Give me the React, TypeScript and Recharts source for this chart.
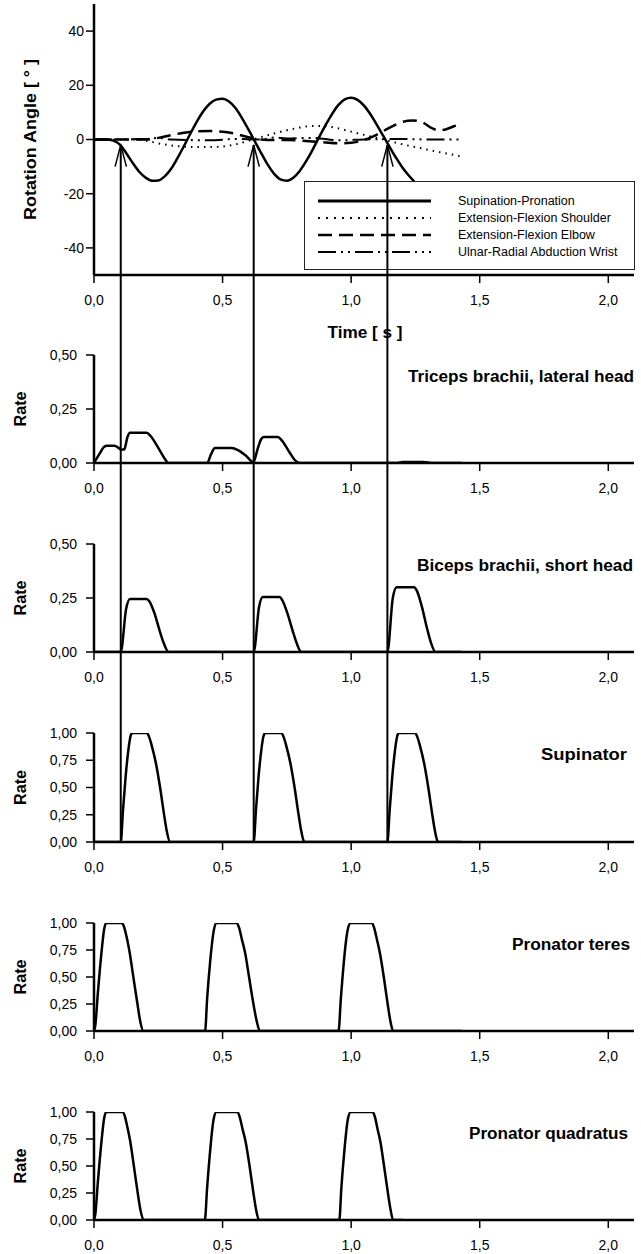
import React from 'react'
import { LineChart, Line, XAxis, YAxis, ReferenceLine } from 'recharts'

const FONT = '"Liberation Sans", Arial, Helvetica, sans-serif'

// axis ticks
const timeTicks = [0, 0.5, 1, 1.5, 2]
const angleTicks = [-40, -20, 0, 20, 40]
const rateTicksHalf = [0, 0.25, 0.5]
const rateTicksFull = [0, 0.25, 0.5, 0.75, 1]

// onset of each supination (vertical arrows), s
const onsetTimes = [0.104, 0.621, 1.141]

const seriesNames = [
    'Supination-Pronation',
    'Extension-Flexion Shoulder',
    'Extension-Flexion Elbow',
    'Ulnar-Radial Abduction Wrist',
]

// joint angles: [time s, angle °]
const supinationPronation = [
    [0, 0], [0.05, 0], [0.075, -0.4], [0.1, -1.8], [0.125, -5], [0.15, -8.6], [0.175, -11.8],
    [0.2, -14], [0.225, -15.2], [0.25, -15.1], [0.275, -13.6], [0.3, -10.8], [0.325, -6.8],
    [0.35, -2.4], [0.375, 2.2], [0.4, 6.6], [0.425, 10.4], [0.45, 13.2], [0.475, 14.7], [0.5, 15],
    [0.525, 14], [0.55, 11.6], [0.575, 8], [0.6, 3.8], [0.625, -0.6], [0.65, -5], [0.675, -9.2],
    [0.7, -12.6], [0.725, -14.7], [0.75, -15.2], [0.775, -14.1], [0.8, -11.6], [0.825, -8],
    [0.85, -3.8], [0.875, 0.8], [0.9, 5.2], [0.925, 9.3], [0.95, 12.7], [0.975, 14.8], [1.0, 15.4],
    [1.025, 14.6], [1.05, 12.5], [1.075, 9.3], [1.1, 5.4], [1.125, 1.3], [1.15, -2.8],
    [1.175, -6.8], [1.2, -10.4], [1.225, -13.4], [1.245, -15.5],
]
const extFlexShoulder = [
    [0, 0], [0.15, 0], [0.2, -0.4], [0.25, -1.4], [0.3, -2.2], [0.35, -2.6], [0.4, -2.8],
    [0.45, -2.8], [0.5, -2.6], [0.55, -1.8], [0.6, -0.5], [0.65, 0.9], [0.7, 2.2], [0.75, 3.4],
    [0.8, 4.4], [0.85, 5], [0.9, 4.9], [0.95, 4.1], [1.0, 2.9], [1.05, 1.7], [1.1, 0.6],
    [1.15, -0.6], [1.2, -1.8], [1.25, -2.8], [1.3, -3.8], [1.35, -4.8], [1.4, -5.7], [1.43, -6.3],
]
const extFlexElbow = [
    [0, 0], [0.2, 0], [0.25, 0.6], [0.3, 1.6], [0.35, 2.5], [0.4, 3], [0.45, 3.1], [0.5, 2.9],
    [0.55, 2.1], [0.6, 0.8], [0.65, 0], [0.7, -0.2], [0.75, -0.2], [0.8, -0.4], [0.85, -0.7],
    [0.9, -1.1], [0.95, -1.4], [1.0, -1.2], [1.05, -0.2], [1.1, 1.8], [1.15, 4.4], [1.2, 6.5],
    [1.24, 7], [1.28, 6.2], [1.31, 4.4], [1.34, 3.4], [1.37, 3.8], [1.4, 4.9], [1.43, 5.8],
]
const ulnarRadialWrist = [
    [0, 0], [0.2, 0.2], [0.25, 0.6], [0.3, 0], [0.45, -0.3], [0.55, 0.2], [0.65, 0], [0.7, 0.7],
    [0.75, 0.4], [0.85, 0.6], [0.95, -0.3], [1.05, 0], [1.2, 0.2], [1.3, 0], [1.43, 0],
]

// muscle activation rates: [time s, rate]
const tricepsLateral = [
    [0, 0], [0.02, 0.04], [0.04, 0.075], [0.05, 0.08], [0.08, 0.08], [0.095, 0.07], [0.105, 0.062],
    [0.118, 0.063], [0.13, 0.12], [0.14, 0.14], [0.205, 0.14], [0.22, 0.125], [0.25, 0.07],
    [0.275, 0.02], [0.29, 0], [0.44, 0], [0.455, 0.04], [0.47, 0.07], [0.535, 0.07], [0.56, 0.06],
    [0.59, 0.035], [0.62, 0.004], [0.635, 0.06], [0.65, 0.11], [0.66, 0.12], [0.715, 0.12],
    [0.73, 0.105], [0.76, 0.05], [0.78, 0.015], [0.8, 0], [1.18, 0], [1.2, 0.005], [1.28, 0.005],
    [1.32, 0], [1.43, 0],
]
const bicepsShort = [
    [0, 0], [0.104, 0], [0.125, 0.2], [0.14, 0.245], [0.205, 0.245], [0.215, 0.235], [0.235, 0.18],
    [0.255, 0.1], [0.27, 0.045], [0.29, 0], [0.621, 0], [0.642, 0.21], [0.656, 0.255],
    [0.722, 0.255], [0.732, 0.24], [0.752, 0.18], [0.772, 0.1], [0.787, 0.045], [0.806, 0],
    [1.141, 0], [1.162, 0.25], [1.177, 0.3], [1.245, 0.3], [1.255, 0.285], [1.275, 0.21],
    [1.295, 0.11], [1.31, 0.045], [1.328, 0], [1.43, 0],
]
const supinator = [
    [0, 0], [0.104, 0], [0.113, 0.3], [0.123, 0.6], [0.134, 0.85], [0.142, 0.97], [0.148, 1],
    [0.205, 1], [0.215, 0.96], [0.225, 0.88], [0.241, 0.72], [0.257, 0.5], [0.272, 0.26],
    [0.283, 0.1], [0.296, 0], [0.621, 0], [0.63, 0.3], [0.64, 0.6], [0.651, 0.85], [0.659, 0.97],
    [0.666, 1], [0.728, 1], [0.738, 0.96], [0.748, 0.88], [0.764, 0.72], [0.78, 0.5],
    [0.795, 0.26], [0.806, 0.1], [0.818, 0], [1.141, 0], [1.15, 0.3], [1.16, 0.6], [1.171, 0.85],
    [1.179, 0.97], [1.185, 1], [1.248, 1], [1.258, 0.96], [1.268, 0.88], [1.284, 0.72],
    [1.3, 0.5], [1.315, 0.26], [1.326, 0.1], [1.338, 0], [1.43, 0],
]
const pronatorTeres = [
    [0, 0], [0.005, 0.05], [0.015, 0.35], [0.028, 0.7], [0.04, 0.95], [0.048, 1], [0.108, 1],
    [0.116, 0.97], [0.124, 0.9], [0.137, 0.75], [0.153, 0.5], [0.169, 0.25], [0.179, 0.1],
    [0.192, 0], [0.432, 0], [0.44, 0.3], [0.452, 0.65], [0.465, 0.92], [0.477, 1], [0.555, 1],
    [0.565, 0.95], [0.575, 0.85], [0.588, 0.72], [0.603, 0.5], [0.62, 0.25], [0.632, 0.1],
    [0.645, 0], [0.951, 0], [0.96, 0.3], [0.972, 0.65], [0.986, 0.93], [0.998, 1], [1.081, 1],
    [1.09, 0.95], [1.1, 0.85], [1.112, 0.72], [1.127, 0.5], [1.142, 0.25], [1.152, 0.1],
    [1.163, 0], [1.43, 0],
]
const pronatorQuadratus = [
    [0, 0], [0.005, 0.05], [0.015, 0.35], [0.028, 0.7], [0.04, 0.95], [0.048, 1], [0.112, 1],
    [0.12, 0.96], [0.128, 0.88], [0.14, 0.74], [0.155, 0.5], [0.17, 0.25], [0.18, 0.1],
    [0.195, 0], [0.431, 0], [0.44, 0.3], [0.452, 0.65], [0.465, 0.93], [0.476, 1], [0.558, 1],
    [0.567, 0.95], [0.577, 0.85], [0.59, 0.72], [0.605, 0.5], [0.62, 0.25], [0.63, 0.1],
    [0.642, 0], [0.954, 0], [0.962, 0.3], [0.974, 0.65], [0.987, 0.93], [0.998, 1], [1.084, 1],
    [1.093, 0.95], [1.102, 0.85], [1.114, 0.72], [1.128, 0.5], [1.143, 0.25], [1.153, 0.1],
    [1.163, 0], [1.2, 0],
]

const muscleTitles = [
    'Triceps brachii, lateral head',
    'Biceps brachii, short head',
    'Supinator',
    'Pronator teres',
    'Pronator quadratus',
]

const toPoints = (arr: number[][]) => arr.map(([t, v]) => ({ t, v }))
const fmtTime = (v: number) => v.toFixed(1).replace('.', ',')
const fmtRate = (v: number) => v.toFixed(2).replace('.', ',')

const angleSeries = [supinationPronation, extFlexShoulder, extFlexElbow, ulnarRadialWrist]
const lineStyles = [
    { dash: undefined, width: 2.5 },
    { dash: '1.5 5', width: 2 },
    { dash: '14 7', width: 2.5 },
    { dash: '18 5 2 5 2 5', width: 2 },
]

const axisCommon = {
    axisLine: { stroke: '#000', strokeWidth: 2.5 },
    tickLine: { stroke: '#000', strokeWidth: 1.5 },
    tick: { fill: '#000', fontSize: 14, fontFamily: FONT },
    tickSize: 8,
    interval: 0 as const,
    allowDataOverflow: true,
}

const boldText = { fontFamily: FONT, fontWeight: 'bold' as const, fontSize: 16 }

const vertLabel = (text: string, cx: number, len: number) => (props: any) => {
    const vb = props.viewBox || {}
    const cy = vb.y + vb.height / 2
    return (
        <text x={cx} y={cy} transform={`rotate(-90 ${cx} ${cy})`} textAnchor="middle"
            dominantBaseline="central" fill="#000" textLength={len} lengthAdjust="spacingAndGlyphs"
            style={boldText}>
            {text}
        </text>
    )
}

const timeLabel = (props: any) => {
    const vb = props.viewBox || {}
    return (
        <text x={vb.x + vb.width / 2 + 1} y={vb.y + 57} textAnchor="middle" dominantBaseline="central"
            fill="#000" textLength={75} lengthAdjust="spacingAndGlyphs" style={boldText}>
            Time [ s ]
        </text>
    )
}

// pixel layout of the stacked panels
const W = 641
const ML = 34
const MR = 7

function AngleChart() {
    const H = 345, MT = 4, AH = 70
    const plotH = H - MT - AH
    const lower = -50 - (AH / plotH) * 100 - 1
    return (
        <div style={{ position: 'absolute', left: 0, top: 0 }}>
            <LineChart width={W} height={H} margin={{ top: MT, right: MR, bottom: 0, left: ML }}>
                <XAxis type="number" dataKey="t" domain={[0, 2.1]} ticks={timeTicks} height={AH}
                    tickFormatter={fmtTime} tickMargin={12} label={timeLabel} {...axisCommon} />
                <YAxis type="number" domain={[-50, 50]} ticks={angleTicks} width={60}
                    tickMargin={2} label={vertLabel('Rotation Angle [ ° ]', 30, 161)} {...axisCommon} />
                {angleSeries.map((s, i) => (
                    <Line key={seriesNames[i]} data={toPoints(s)} dataKey="v" type="monotone"
                        stroke="#000" strokeWidth={lineStyles[i].width}
                        strokeDasharray={lineStyles[i].dash} dot={false} activeDot={false}
                        isAnimationActive={false} />
                ))}
                {onsetTimes.map(t => (
                    <React.Fragment key={t}>
                        <ReferenceLine segment={[{ x: t, y: -2 }, { x: t, y: lower }]}
                            ifOverflow="visible" stroke="#000" strokeWidth={2} />
                        <ReferenceLine segment={[{ x: t, y: -2 }, { x: t - 0.022, y: -10 }]}
                            ifOverflow="visible" stroke="#000" strokeWidth={1.5} />
                        <ReferenceLine segment={[{ x: t, y: -2 }, { x: t + 0.022, y: -10 }]}
                            ifOverflow="visible" stroke="#000" strokeWidth={1.5} />
                    </React.Fragment>
                ))}
            </LineChart>
        </div>
    )
}

interface PanelProps {
    data: number[][]
    title: string
    titleLeft: number
    titleRight: number
    yMax: number
    ticks: number[]
    top: number
    height: number
    mt: number
    ah: number
    arrows: 'through' | 'end' | 'none'
}

function RatePanel({ data, title, titleLeft, titleRight, yMax, ticks, top, height, mt, ah, arrows }: PanelProps) {
    const plotH = height - mt - ah
    const upper = yMax * (1 + mt / plotH) + 0.01
    const lower = arrows === 'through' ? -yMax * (ah / plotH) - 0.01 : 0
    return (
        <div style={{ position: 'absolute', left: 0, top }}>
            <LineChart width={W} height={height} margin={{ top: mt, right: MR, bottom: 0, left: ML }}>
                <XAxis type="number" dataKey="t" domain={[0, 2.1]} ticks={timeTicks} height={ah}
                    tickFormatter={fmtTime} tickMargin={12} {...axisCommon} />
                <YAxis type="number" domain={[0, yMax]} ticks={ticks} width={60}
                    tickFormatter={fmtRate} tickMargin={9} label={vertLabel('Rate', 20, 35)} {...axisCommon} />
                <Line data={toPoints(data)} dataKey="v" type="monotone" stroke="#000" strokeWidth={2.5}
                    dot={false} activeDot={false} isAnimationActive={false} />
                {arrows !== 'none' && onsetTimes.map(t => (
                    <ReferenceLine key={t} segment={[{ x: t, y: lower }, { x: t, y: upper }]}
                        ifOverflow="visible" stroke="#000" strokeWidth={2} />
                ))}
            </LineChart>
            <svg width={W} height={30} style={{ position: 'absolute', left: 0, top: mt + 6 }}>
                <text x={titleLeft} y={15} dominantBaseline="central" fill="#000"
                    textLength={titleRight - titleLeft} lengthAdjust="spacingAndGlyphs" style={boldText}>
                    {title}
                </text>
            </svg>
        </div>
    )
}

function AngleLegend() {
    return (
        <div style={{
            position: 'absolute', left: 304, top: 181, width: 331, height: 89, boxSizing: 'border-box',
            border: '1px solid #222', fontFamily: FONT, fontSize: 12.5, color: '#000',
        }}>
            {seriesNames.map((name, i) => (
                <div key={name} style={{ position: 'absolute', left: 0, top: 11 + i * 17, height: 16, width: '100%' }}>
                    <svg width={120} height={16} style={{ position: 'absolute', left: 12, top: 0 }}>
                        <line x1={1} y1={8} x2={114} y2={8} stroke="#000"
                            strokeWidth={i === 0 ? 3 : lineStyles[i].width}
                            strokeDasharray={i === 1 ? '2 6' : lineStyles[i].dash} />
                    </svg>
                    <span style={{ position: 'absolute', left: 153, top: 0, lineHeight: '16px', whiteSpace: 'nowrap' }}>
                        {name}
                    </span>
                </div>
            ))}
        </div>
    )
}

const panels: PanelProps[] = [
    { data: tricepsLateral, title: muscleTitles[0], titleLeft: 408, titleRight: 634, yMax: 0.5, ticks: rateTicksHalf, top: 345, height: 165, mt: 10, ah: 47, arrows: 'through' },
    { data: bicepsShort, title: muscleTitles[1], titleLeft: 417, titleRight: 633, yMax: 0.5, ticks: rateTicksHalf, top: 510, height: 190, mt: 34, ah: 48, arrows: 'through' },
    { data: supinator, title: muscleTitles[2], titleLeft: 541, titleRight: 627, yMax: 1, ticks: rateTicksFull, top: 700, height: 190, mt: 33, ah: 48, arrows: 'end' },
    { data: pronatorTeres, title: muscleTitles[3], titleLeft: 512, titleRight: 630, yMax: 1, ticks: rateTicksFull, top: 890, height: 185, mt: 33, ah: 44, arrows: 'none' },
    { data: pronatorQuadratus, title: muscleTitles[4], titleLeft: 469, titleRight: 628, yMax: 1, ticks: rateTicksFull, top: 1075, height: 179, mt: 37, ah: 34, arrows: 'none' },
]

export default function App() {
    return (
        <div style={{ position: 'absolute', left: 0, top: 0, width: W, height: 1254, background: '#fff', overflow: 'hidden' }}>
            <AngleChart />
            <AngleLegend />
            {panels.map(p => <RatePanel key={p.title} {...p} />)}
        </div>
    )
}
